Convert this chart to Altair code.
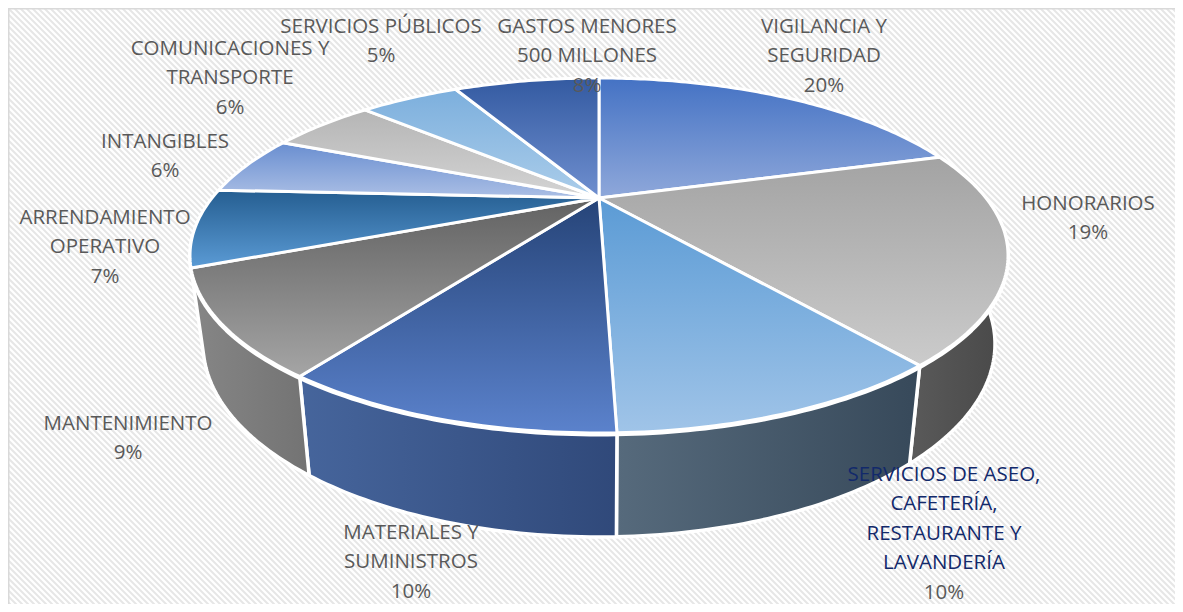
import math
import altair as alt
import pandas as pd

# ---- values (slice shares, clockwise from the top) ----
SHARES = [20.5, 18.9, 10.1, 10.1, 9.1, 7.1, 5.6, 5.4, 5.3, 7.9]
NAMES = [
    ["VIGILANCIA Y", "SEGURIDAD"],
    ["HONORARIOS"],
    ["SERVICIOS DE ASEO,", "CAFETERÍA,", "RESTAURANTE Y", "LAVANDERÍA"],
    ["MATERIALES Y", "SUMINISTROS"],
    ["MANTENIMIENTO"],
    ["ARRENDAMIENTO", "OPERATIVO"],
    ["INTANGIBLES"],
    ["COMUNICACIONES Y", "TRANSPORTE"],
    ["SERVICIOS PÚBLICOS"],
    ["GASTOS MENORES", "500 MILLONES"],
]
PERCENTS = ["20%", "19%", "10%", "10%", "9%", "7%", "6%", "6%", "5%", "8%"]

# ---- styling / layout ----
TOP_COLORS = [
    ("#4472c4", "#8fa8da"), ("#a3a3a3", "#cbcbcb"), ("#5b9bd5", "#a0c4e8"),
    ("#264478", "#5b82cc"), ("#626262", "#a5a5a5"), ("#255e91", "#5b9bd5"),
    ("#698ed0", "#abbfe5"), ("#b5b5b5", "#d4d4d4"), ("#7cafdd", "#abcdea"),
    ("#335aa1", "#6f8fcf"),
]
WALL_COLORS = {1: ("#5a5a5a", "#484848"), 2: ("#566a7c", "#37495a"),
               3: ("#46659c", "#30497a"), 4: ("#868686", "#737373")}
LABEL_POS = [(824, 27), (1088, 204), (944, 475), (411, 533), (128, 424),
             (105, 218), (165, 142), (230, 49), (381, 27), (587, 27)]
LINE_STEP = 29.4
FONT = "Open Sans"
FONT_SIZE = 20.5

W, H = 1183, 612
X1, Y1 = W - 8, H - 8          # the page keeps an 8px margin on every side
TOP = dict(cx=599, cy=255.5, a=409, b=177.5)
SEAM = dict(cx=599, cy=257.0, a=409, b=177.5)
BOTTOM = dict(cx=599, cy=344, a=396, b=193)
PY = (198 - 255.5) / 177.5     # pie centre inside the tilted rim (perspective)


def rim(frac, e):
    t = 2 * math.pi * frac
    x, y = math.sin(t), -math.cos(t)
    d = 1 + PY * y
    xn = x * math.sqrt(1 - PY * PY) / d
    yn = (y + PY) / d
    return [e["cx"] + xn * e["a"], e["cy"] + yn * e["b"]]


def arc(f0, f1, e):
    n = max(3, int((f1 - f0) * 400))
    return [rim(f0 + (f1 - f0) * i / n, e) for i in range(n + 1)]


def feature(ring):
    return {"type": "Feature", "properties": {},
            "geometry": {"type": "Polygon", "coordinates": [ring + [ring[0]]]}}


def grad(c0, c1, horizontal=False):
    return alt.Gradient(
        gradient="linear",
        stops=[alt.GradientStop(offset=0, color=c0), alt.GradientStop(offset=1, color=c1)],
        x1=0, y1=0, x2=1 if horizontal else 0, y2=0 if horizontal else 1,
    )


XS = alt.Scale(domain=[8, X1], range=[0, X1 - 8])
YS = alt.Scale(domain=[8, Y1], range=[0, Y1 - 8])


def geo(ring, fill, sw=3.0):
    return alt.Chart(alt.Data(values=[feature(ring)], format=alt.DataFormat(type="json"))).mark_geoshape(
        fill=fill, stroke="white", strokeWidth=sw, strokeJoin="round"
    ).project(type="identity", scale=1, translate=[-8, -8])


layers = []

# background hatching and frame
hatch = pd.DataFrame([{"x": c, "y": 8, "x2": c + 700, "y2": 708} for c in range(-700, W + 8, 6)])
layers.append(alt.Chart(hatch).mark_rule(color="#e6e6e6", strokeWidth=2, clip=True).encode(
    x=alt.X("x:Q", scale=XS, axis=None), x2="x2:Q",
    y=alt.Y("y:Q", scale=YS, axis=None), y2="y2:Q"))
frame = pd.DataFrame([{"x": 8, "x2": W, "y": 8, "y2": 8}, {"x": 8, "x2": 8, "y": 8, "y2": H}])
layers.append(alt.Chart(frame).mark_rule(color="#d9d9d9", strokeWidth=3, clip=True).encode(
    x=alt.X("x:Q", scale=XS, axis=None), x2="x2:Q",
    y=alt.Y("y:Q", scale=YS, axis=None), y2="y2:Q"))

# slice boundaries
bounds = [0.0]
for s in SHARES:
    bounds.append(bounds[-1] + s)
total = bounds[-1]
bounds = [b / total for b in bounds]

# outer walls, white seam, then top faces
for i, (c0, c1) in WALL_COLORS.items():
    f0, f1 = bounds[i], bounds[i + 1]
    ring = arc(f0, f1, TOP) + arc(f0, f1, BOTTOM)[::-1]
    layers.append(geo(ring, grad(c0, c1, True), 3.5))

layers.append(geo(arc(0.0, 1.0, SEAM), "white", 4.0))

centre = [TOP["cx"], TOP["cy"] + PY * TOP["b"]]
for i, (c0, c1) in enumerate(TOP_COLORS):
    ring = [centre] + arc(bounds[i], bounds[i + 1], TOP)
    layers.append(geo(ring, grad(c0, c1), 3.0))

# labels
rows = []
for name, pct, (lx, ly), idx in zip(NAMES, PERCENTS, LABEL_POS, range(len(NAMES))):
    for j, line in enumerate(name):
        rows.append({"t": line, "x": lx, "y": ly + j * LINE_STEP, "k": "dark" if idx == 2 else "grey"})
    rows.append({"t": pct, "x": lx, "y": ly + len(name) * LINE_STEP, "k": "grey"})
labels = pd.DataFrame(rows)
layers.append(alt.Chart(labels).mark_text(font=FONT, fontSize=FONT_SIZE, baseline="middle", align="center").encode(
    x=alt.X("x:Q", scale=XS, axis=None), y=alt.Y("y:Q", scale=YS, axis=None),
    text="t:N",
    color=alt.Color("k:N", scale=alt.Scale(domain=["grey", "dark"], range=["#595959", "#12296b"]), legend=None)))

chart = alt.layer(*layers).properties(
    width=X1 - 8, height=Y1 - 8, padding=0, background="white",
    autosize=alt.AutoSizeParams(type="none"),
).configure_view(stroke=None)

chart.save("out.html", embed_options={"renderer": "svg", "actions": False})
